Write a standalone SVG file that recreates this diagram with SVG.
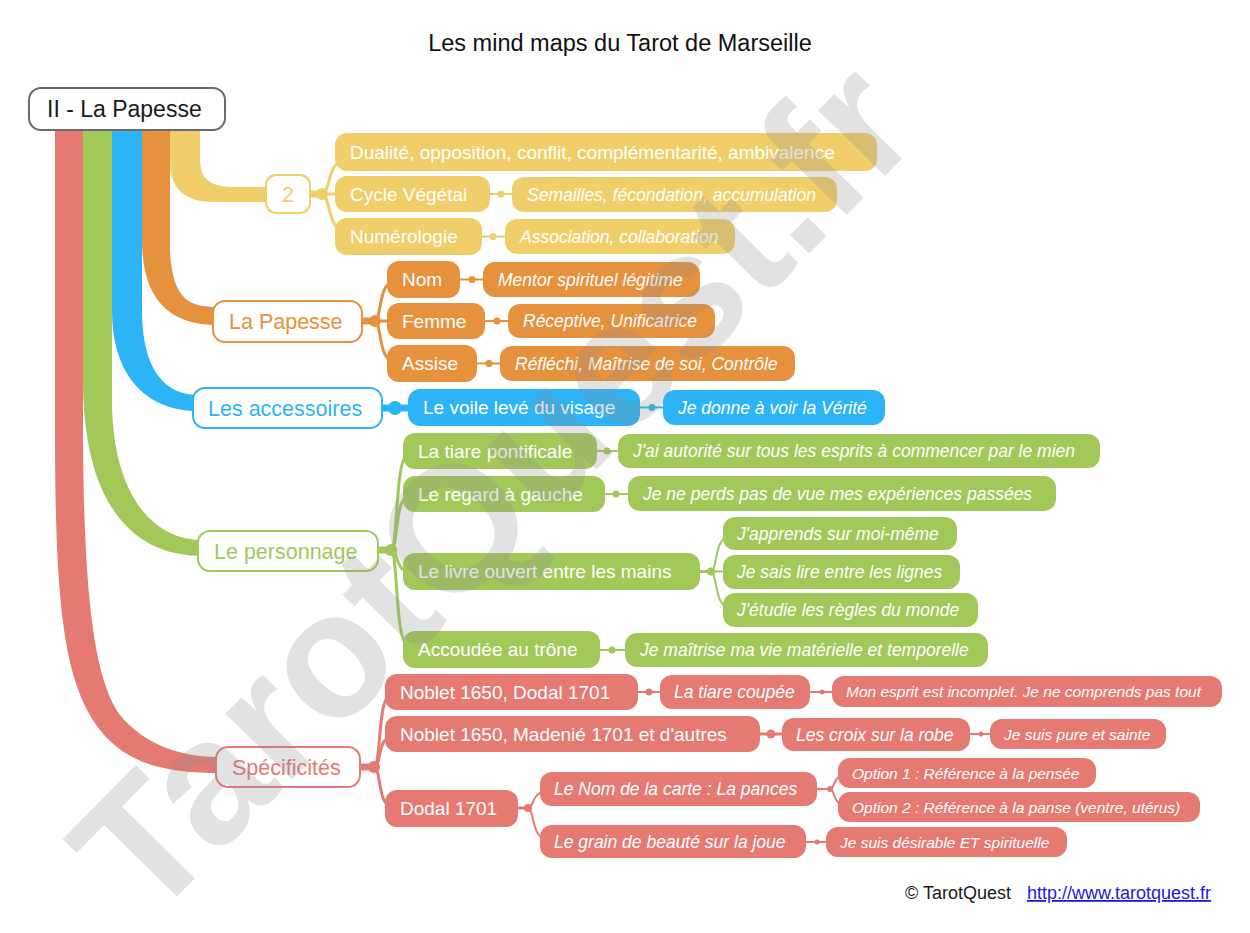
<svg xmlns="http://www.w3.org/2000/svg" width="1250" height="933" viewBox="0 0 1250 933">
<style>
text{font-family:"Liberation Sans",Arial,sans-serif}
.t2{font-size:19px;fill:#fff}
.t3{font-size:17.5px;fill:#fff;font-style:italic}
.t4{font-size:15.5px;fill:#fff;font-style:italic}
.t1{font-size:21.5px}
.y{fill:#F0CF6B}.o{fill:#E6913E}.b{fill:#2DB4F6}.g{fill:#A3C85A}.r{fill:#E57A72}
.ys{stroke:#F0CF6B}.os{stroke:#E6913E}.bs{stroke:#2DB4F6}.gs{stroke:#A3C85A}.rs{stroke:#E57A72}
.c{fill:none;stroke-width:3;stroke-linecap:round}
.c2{fill:none;stroke-width:2}
.k{fill:none;stroke-width:7}
.l1{fill:#fff;stroke-width:2}
</style>
<rect width="1250" height="933" fill="#fff"/>
<text x="620" y="51" text-anchor="middle" font-size="23.5" fill="#111">Les mind maps du Tarot de Marseille</text>

<g id="connectors">
  <path class="r" d="M55,128 L55,420 C55,600 62,680 100,730 C130,768 175,773 220,773 L220,757 C180,757 145,745 120,715 C95,680 83,600 83,420 L83,128 Z"/>
  <path class="g" d="M83,128 L83,380 C83,500 130,556 202,556 L202,540 C150,540 112,490 112,400 L112,128 Z"/>
  <path class="b" d="M112,128 L112,310 C112,380 150,411 198,411 L198,395 C165,395 142,370 142,310 L142,128 Z"/>
  <path class="o" d="M142,128 L142,240 C142,300 170,325 217,325 L217,307 C190,307 172,300 170,250 L170,128 Z"/>
  <path class="y" d="M170,128 L170,160 C170,190 185,202 215,202 L270,202 L270,187 L232,187 C210,187 200,178 200,160 L200,128 Z"/>

  <line class="k ys" x1="308" y1="194" x2="322" y2="194"/>
  <circle class="y" cx="322" cy="194" r="6"/>
  <path class="c ys" d="M322,194 C330,194 328,162 342,162"/>
  <path class="c ys" d="M322,194 L342,194"/>
  <path class="c ys" d="M322,194 C330,194 328,229 342,229"/>
  <line class="c2 ys" x1="488" y1="194" x2="514" y2="194"/>
  <circle class="y" cx="501" cy="194" r="3.5"/>
  <line class="c2 ys" x1="480" y1="236.5" x2="507" y2="236.5"/>
  <circle class="y" cx="493" cy="236.5" r="3.5"/>

  <line class="k os" x1="360" y1="321" x2="375" y2="321"/>
  <circle class="o" cx="375" cy="321" r="6"/>
  <path class="c os" d="M375,321 C381,321 379,283 392,283"/>
  <path class="c os" d="M375,321 L392,321"/>
  <path class="c os" d="M375,321 C381,321 379,360 392,360"/>
  <line class="c2 os" x1="458" y1="279.5" x2="485" y2="279.5"/>
  <circle class="o" cx="472" cy="279.5" r="3.5"/>
  <line class="c2 os" x1="483" y1="321" x2="510" y2="321"/>
  <circle class="o" cx="497" cy="321" r="3.5"/>
  <line class="c2 os" x1="475" y1="363.5" x2="502" y2="363.5"/>
  <circle class="o" cx="489" cy="363.5" r="3.5"/>

  <line class="k bs" x1="380" y1="408" x2="410" y2="408"/>
  <circle class="b" cx="395" cy="408" r="7"/>
  <line class="c2 bs" x1="638" y1="407.5" x2="665" y2="407.5"/>
  <circle class="b" cx="652" cy="407.5" r="3.5"/>

  <line class="k gs" x1="376" y1="550" x2="391" y2="550"/>
  <circle class="g" cx="391" cy="550" r="6"/>
  <path class="c gs" d="M391,550 C398,550 395,455 408,455"/>
  <path class="c gs" d="M391,550 C398,550 395,497 408,497"/>
  <path class="c gs" d="M391,550 C398,550 396,571 408,571"/>
  <path class="c gs" d="M391,550 C398,550 395,645 408,645"/>
  <line class="c2 gs" x1="595" y1="451" x2="620" y2="451"/>
  <circle class="g" cx="607" cy="451" r="3.5"/>
  <line class="c2 gs" x1="603" y1="494" x2="630" y2="494"/>
  <circle class="g" cx="616" cy="494" r="3.5"/>
  <line class="c gs" x1="698" y1="571.5" x2="711" y2="571.5"/>
  <circle class="g" cx="711" cy="571.5" r="4"/>
  <path class="c2 gs" d="M711,571.5 C717,571.5 715,537 728,537"/>
  <path class="c2 gs" d="M711,571.5 L728,571.5"/>
  <path class="c2 gs" d="M711,571.5 C717,571.5 715,607 728,607"/>
  <line class="c2 gs" x1="598" y1="650" x2="627" y2="650"/>
  <circle class="g" cx="612" cy="650" r="3.5"/>

  <line class="k rs" x1="358" y1="767" x2="374" y2="767"/>
  <circle class="r" cx="374" cy="767" r="6"/>
  <path class="c rs" d="M374,767 C381,767 378,696 390,696"/>
  <path class="c rs" d="M374,767 C381,767 378,738 390,738"/>
  <path class="c rs" d="M374,767 C381,767 378,805 390,805"/>
  <line class="c2 rs" x1="636" y1="692" x2="662" y2="692"/>
  <circle class="r" cx="649" cy="692" r="3.5"/>
  <line class="c2 rs" x1="808" y1="692" x2="834" y2="692"/>
  <circle class="r" cx="822" cy="692" r="2.5"/>
  <line class="c rs" x1="758" y1="734" x2="784" y2="734"/>
  <circle class="r" cx="771" cy="734" r="4.5"/>
  <line class="c2 rs" x1="968" y1="734" x2="992" y2="734"/>
  <circle class="r" cx="981" cy="734" r="2.5"/>
  <line class="c rs" x1="516" y1="808" x2="528" y2="808"/>
  <circle class="r" cx="528" cy="808" r="4"/>
  <path class="c2 rs" d="M528,808 C534,808 532,792 545,792"/>
  <path class="c2 rs" d="M528,808 C534,808 532,838 545,838"/>
  <line class="c2 rs" x1="815" y1="789" x2="830" y2="789"/>
  <circle class="r" cx="830" cy="789" r="3"/>
  <path class="c2 rs" d="M830,789 C835,789 833,776 843,776"/>
  <path class="c2 rs" d="M830,789 C835,789 833,804 843,804"/>
  <line class="c2 rs" x1="804" y1="842" x2="828" y2="842"/>
  <circle class="r" cx="817" cy="842" r="2.5"/>
</g>

<g id="root">
  <rect x="29" y="88" width="196" height="42" rx="12" fill="#fff" stroke="#6b6b6b" stroke-width="2"/>
  <text x="47" y="117" font-size="23" fill="#1a1a1a">II - La Papesse</text>
</g>

<g id="n-2"><rect class="l1 ys" x="266" y="175" width="44" height="38" rx="10"/><text class="t1 y" x="288" y="201.6" text-anchor="middle">2</text></g>
<g id="n-dualite"><rect class="y" x="335" y="133" width="542" height="38" rx="12"/><text class="t2" x="350" y="158.8">Dualité, opposition, conflit, complémentarité, ambivalence</text></g>
<g id="n-cycle"><rect class="y" x="335" y="176" width="155" height="36" rx="12"/><text class="t2" x="350" y="200.8">Cycle Végétal</text></g>
<g id="n-semailles"><rect class="y" x="512" y="177" width="325" height="35" rx="12"/><text class="t3" x="527" y="200.7">Semailles, fécondation, accumulation</text></g>
<g id="n-numerologie"><rect class="y" x="335" y="218" width="147" height="37" rx="12"/><text class="t2" x="350" y="243.3">Numérologie</text></g>
<g id="n-association"><rect class="y" x="505" y="219" width="230" height="35" rx="12"/><text class="t3" x="520" y="242.7">Association, collaboration</text></g>

<g id="n-lapapesse"><rect class="l1 os" x="213" y="301" width="149" height="41" rx="12"/><text class="t1 o" x="229" y="329.1">La Papesse</text></g>
<g id="n-nom"><rect class="o" x="387" y="261" width="73" height="37" rx="12"/><text class="t2" x="402" y="286.3">Nom</text></g>
<g id="n-mentor"><rect class="o" x="483" y="262" width="217" height="35" rx="12"/><text class="t3" x="498" y="285.7">Mentor spirituel légitime</text></g>
<g id="n-femme"><rect class="o" x="387" y="303" width="98" height="36" rx="12"/><text class="t2" x="402" y="327.8">Femme</text></g>
<g id="n-receptive"><rect class="o" x="508" y="304" width="207" height="34" rx="12"/><text class="t3" x="523" y="327.2">Réceptive, Unificatrice</text></g>
<g id="n-assise"><rect class="o" x="387" y="345" width="90" height="37" rx="12"/><text class="t2" x="402" y="370.3">Assise</text></g>
<g id="n-reflechi"><rect class="o" x="500" y="346" width="295" height="35" rx="12"/><text class="t3" x="515" y="369.7">Réfléchi, Maîtrise de soi, Contrôle</text></g>

<g id="n-accessoires"><rect class="l1 bs" x="193" y="388" width="189" height="40" rx="12"/><text class="t1 b" x="208" y="415.6">Les accessoires</text></g>
<g id="n-voile"><rect class="b" x="408" y="389" width="232" height="37" rx="12"/><text class="t2" x="423" y="414.3">Le voile levé du visage</text></g>
<g id="n-verite"><rect class="b" x="663" y="390" width="222" height="35" rx="12"/><text class="t3" x="678" y="413.7">Je donne à voir la Vérité</text></g>

<g id="n-personnage"><rect class="l1 gs" x="198" y="531" width="180" height="40" rx="12"/><text class="t1 g" x="214" y="558.6">Le personnage</text></g>
<g id="n-tiare"><rect class="g" x="403" y="433" width="194" height="36" rx="12"/><text class="t2" x="418" y="457.8">La tiare pontificale</text></g>
<g id="n-autorite"><rect class="g" x="618" y="434" width="482" height="34" rx="12"/><text class="t3" x="633" y="457.2">J'ai autorité sur tous les esprits à commencer par le mien</text></g>
<g id="n-regard"><rect class="g" x="403" y="476" width="202" height="36" rx="12"/><text class="t2" x="418" y="500.8">Le regard à gauche</text></g>
<g id="n-perds"><rect class="g" x="628" y="476" width="428" height="35" rx="12"/><text class="t3" x="643" y="499.7">Je ne perds pas de vue mes expériences passées</text></g>
<g id="n-livre"><rect class="g" x="403" y="553" width="297" height="37" rx="12"/><text class="t2" x="418" y="578.3">Le livre ouvert entre les mains</text></g>
<g id="n-apprends"><rect class="g" x="723" y="517" width="234" height="33" rx="12"/><text class="t3" x="737" y="539.7">J'apprends sur moi-même</text></g>
<g id="n-lignes"><rect class="g" x="723" y="555" width="237" height="34" rx="12"/><text class="t3" x="737" y="578.2">Je sais lire entre les lignes</text></g>
<g id="n-etudie"><rect class="g" x="723" y="593" width="255" height="34" rx="12"/><text class="t3" x="737" y="616.2">J'étudie les règles du monde</text></g>
<g id="n-trone"><rect class="g" x="403" y="631" width="197" height="37" rx="12"/><text class="t2" x="418" y="656.3">Accoudée au trône</text></g>
<g id="n-maitrise"><rect class="g" x="625" y="633" width="363" height="34" rx="12"/><text class="t3" x="640" y="656.2">Je maîtrise ma vie matérielle et temporelle</text></g>

<g id="n-specificites"><rect class="l1 rs" x="216" y="747" width="144" height="40" rx="12"/><text class="t1 r" x="232" y="774.6">Spécificités</text></g>
<g id="n-noblet-dodal"><rect class="r" x="385" y="674" width="253" height="36" rx="12"/><text class="t2" x="400" y="698.8">Noblet 1650, Dodal 1701</text></g>
<g id="n-tiare-coupee"><rect class="r" x="660" y="675" width="150" height="34" rx="12"/><text class="t3" x="674" y="698.2">La tiare coupée</text></g>
<g id="n-incomplet"><rect class="r" x="832" y="676" width="390" height="31" rx="12"/><text class="t4" x="846" y="697">Mon esprit est incomplet. Je ne comprends pas tout</text></g>
<g id="n-noblet-madenie"><rect class="r" x="385" y="716" width="375" height="36" rx="12"/><text class="t2" x="400" y="740.8">Noblet 1650, Madenié 1701 et d'autres</text></g>
<g id="n-croix"><rect class="r" x="782" y="718" width="188" height="33" rx="12"/><text class="t3" x="796" y="740.7">Les croix sur la robe</text></g>
<g id="n-pure"><rect class="r" x="990" y="719" width="176" height="30" rx="12"/><text class="t4" x="1004" y="739.5">Je suis pure et sainte</text></g>
<g id="n-dodal"><rect class="r" x="385" y="790" width="133" height="37" rx="12"/><text class="t2" x="400" y="815.3">Dodal 1701</text></g>
<g id="n-nom-carte"><rect class="r" x="540" y="772" width="277" height="34" rx="12"/><text class="t3" x="554" y="795.2">Le Nom de la carte : La pances</text></g>
<g id="n-option1"><rect class="r" x="838" y="758" width="258" height="30" rx="12"/><text class="t4" x="852" y="778.5">Option 1 : Référence à la pensée</text></g>
<g id="n-option2"><rect class="r" x="838" y="792" width="362" height="30" rx="12"/><text class="t4" x="852" y="812.5">Option 2 : Référence à la panse (ventre, utérus)</text></g>
<g id="n-grain"><rect class="r" x="540" y="825" width="266" height="33" rx="12"/><text class="t3" x="554" y="847.7">Le grain de beauté sur la joue</text></g>
<g id="n-desirable"><rect class="r" x="826" y="827" width="241" height="30" rx="12"/><text class="t4" x="840" y="847.5">Je suis désirable ET spirituelle</text></g>

<text x="905" y="899" font-size="18" fill="#1a1a1a">© TarotQuest</text>
<text x="1027" y="899" font-size="18" fill="#1a1adb" text-decoration="underline">http://www.tarotquest.fr</text>

<text transform="translate(148,926) rotate(-45.5)" x="0" y="0" font-size="177" font-weight="bold" fill="#8c8c8c" fill-opacity="0.25">TarotQuest.fr</text>
</svg>
